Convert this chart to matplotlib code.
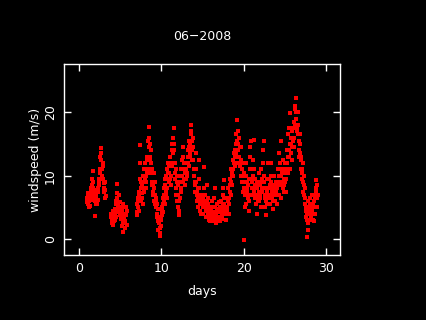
import numpy as np
import matplotlib
matplotlib.use("Agg")
import matplotlib.pyplot as plt

nan = np.nan
gap = [nan] * 24

# wind speed (m/s), one row per day, hourly readings
first_day = 1
speed_rows = [
    [6.5, 5.8, 5.5, 7.2, 7.0, 6.3, 6.0, 5.0, 5.2, 6.8, 7.5, 8.0,
     6.2, 7.0, 8.5, 9.5, 10.8, 8.0, 9.0, 7.5, 7.2, 6.5, 6.0, 7.8],      # 1
    [3.6, 5.5, 6.5, 7.0, 5.5, 6.0, 7.8, 8.0, 6.2, 7.5, 8.5, 9.0,
     9.5, 10.5, 11.0, 13.0, 14.3, 13.5, 12.5, 11.0, 10.0, 12.0, 11.5, 9.5],  # 2
    [8.8, 8.0, 7.5, 6.5, 9.0, 7.8, 6.8, nan, nan, nan, nan, nan,
     nan, nan, nan, nan, nan, nan, nan, nan, nan, nan, 3.5, 4.0],       # 3
    [2.5, 3.0, 3.8, 4.5, 2.2, 3.3, 4.2, 2.8, 3.0, 4.0, 4.8, 5.5,
     3.5, 6.0, 8.7, 7.2, 6.5, 5.8, 5.2, 4.2, 7.0, 5.0, 4.5, 3.8],       # 4
    [5.8, 4.2, 4.8, 3.6, 3.2, 4.5, 2.0, 5.0, 5.5, 2.6, 1.1, 3.0,
     4.0, 3.4, 2.8, 1.8, 5.0, 4.0, 3.8, 2.2, 4.4, nan, nan, nan],       # 5
    gap,                                                                # 6
    [5.5, 4.2, 3.8, 6.0, 6.5, 5.0, 4.5, 7.0, 7.5, 9.5, 14.8, 12.0,
     9.0, 8.0, 6.0, 7.2, 8.5, 6.5, 5.5, 9.0, 10.0, 8.0, 7.5, 11.0],     # 7
    [9.5, 11.0, 12.0, 10.0, 8.0, 9.0, 10.5, 12.5, 13.0, 15.5, 11.0, 16.0,
     17.6, 14.5, 15.0, 13.0, 12.5, 10.5, 14.0, 12.0, 11.0, 8.5, 9.0, 7.5],  # 8
    [8.5, 7.0, 6.0, 8.0, 10.5, 9.0, 7.0, 5.5, 5.0, 6.0, 6.5, 4.0,
     3.5, 5.5, 4.8, 2.8, 1.5, 3.0, 2.5, 1.0, 0.5, 1.8, 2.0, 3.0],       # 9
    [3.5, 4.5, 5.0, 3.8, 4.2, 5.5, 6.5, 7.0, 8.0, 6.0, 5.5, 8.5,
     9.5, 7.0, 7.5, 10.0, 11.0, 8.0, 6.5, 10.5, 12.0, 9.5, 9.0, 11.5],  # 10
    [10.5, 12.0, 13.0, 9.5, 8.5, 10.0, 11.5, 14.0, 15.0, 13.5, 12.0, 16.0,
     17.5, 15.0, 14.0, 12.0, 9.5, 10.5, 11.0, 8.0, 7.0, 9.0, 10.0, 6.0],  # 11
    [5.0, 7.0, 8.5, 4.5, 3.8, 6.0, 6.5, 9.0, 10.0, 8.0, 7.5, 11.0,
     12.5, 10.0, 9.0, 13.0, 14.5, 12.0, 11.0, 9.5, 8.5, 10.5, 12.0, 11.0],  # 12
    [9.5, 11.0, 12.0, 10.0, 10.5, 13.0, 14.0, 12.0, 11.5, 14.5, 15.5, 13.5,
     13.0, 15.0, 16.5, 17.0, 18.0, 15.5, 14.0, 12.5, 16.0, 14.5, 12.5, 11.0],  # 13
    [10.0, 8.5, 7.5, 9.0, 13.5, 11.0, 9.0, 7.0, 6.0, 7.5, 8.0, 6.5,
     5.0, 9.5, 12.5, 8.0, 7.0, 5.5, 4.5, 6.0, 6.5, 4.0, 5.5, 7.0],      # 14
    [7.0, 5.0, 4.0, 6.5, 5.5, 8.0, 11.3, 7.0, 6.0, 4.5, 3.5, 5.0,
     8.5, 6.0, 4.5, 3.8, 6.5, 5.5, 3.0, 4.0, 5.0, 3.5, 2.8, 4.2],       # 15
    [4.5, 3.5, 3.0, 5.0, 6.0, 4.0, 2.8, 3.6, 5.0, 4.2, 3.5, 6.5,
     8.0, 5.0, 4.0, 3.0, 2.5, 3.8, 5.5, 4.5, 3.2, 2.9, 4.8, 5.8],       # 16
    [3.5, 4.2, 5.0, 3.0, 2.8, 4.5, 6.0, 5.0, 4.0, 3.5, 3.2, 5.5,
     7.0, 8.0, 9.3, 6.5, 5.5, 4.5, 4.0, 5.0, 6.5, 4.0, 3.0, 4.5],       # 17
    [5.0, 6.5, 8.0, 6.0, 4.0, 5.5, 6.5, 8.5, 9.5, 7.5, 7.0, 9.0,
     11.0, 10.0, 8.5, 10.5, 12.5, 11.0, 10.0, 12.0, 13.5, 12.0, 11.5, 13.0],  # 18
    [14.0, 15.0, 16.5, 13.5, 12.0, 15.5, 18.7, 17.0, 15.0, 14.0, 13.0, 12.0,
     16.0, 14.5, 11.5, 10.0, 14.5, 12.5, 9.0, 11.0, 12.0, 10.0, 7.5, 9.0],  # 19
    [-0.2, 8.0, 10.5, 9.0, 7.0, 5.0, 12.0, 10.0, 5.5, 7.5, 9.0, 8.0,
     6.5, 7.0, 8.5, 6.0, 4.5, 9.5, 11.0, 13.0, 14.5, 15.5, 9.5, 8.0],   # 20
    [7.0, 9.0, 12.5, 10.0, 8.0, 7.5, 15.6, 11.0, 6.5, 8.5, 9.5, 7.0,
     5.5, 6.5, 8.0, 9.0, 4.0, 6.0, 7.0, 8.5, 10.5, 7.5, 6.0, 7.0],      # 21
    [8.5, 6.5, 5.0, 9.0, 11.0, 8.0, 7.5, 9.5, 14.0, 12.0, 15.5, 10.0,
     9.0, 7.0, 6.5, 5.0, 3.8, 6.0, 8.0, 7.5, 5.5, 9.5, 12.0, 8.0],      # 22
    [7.0, 8.0, 9.5, 6.5, 5.5, 7.0, 8.5, 10.0, 12.0, 9.0, 6.5, 7.5,
     8.0, 6.0, 4.8, 7.0, 10.0, 8.5, 7.5, 6.0, 6.0, 7.5, 9.0, 8.0],      # 23
    [8.0, 7.0, 5.5, 8.5, 11.0, 9.0, 7.0, 10.0, 13.5, 11.0, 9.0, 12.0,
     15.5, 10.0, 6.5, 8.5, 10.5, 9.0, 8.0, 11.0, 12.5, 9.5, 7.5, 8.5],  # 24
    [9.0, 10.5, 12.0, 9.5, 7.5, 11.0, 14.0, 12.0, 10.5, 13.0, 16.5, 14.0,
     13.0, 17.5, 19.8, 15.0, 11.0, 13.5, 15.0, 16.0, 17.0, 14.5, 12.5, 15.5],  # 25
    [16.0, 17.5, 18.5, 16.0, 14.5, 18.0, 20.5, 21.0, 22.2, 20.0, 19.0, 17.5,
     17.0, 18.0, 20.0, 16.5, 15.5, 14.0, 13.0, 15.0, 16.5, 13.5, 11.0, 12.5],  # 26
    [13.0, 11.0, 9.5, 10.5, 12.0, 9.0, 7.5, 8.5, 10.0, 7.0, 5.5, 6.5,
     8.0, 5.0, 3.5, 4.5, 0.3, 3.0, 4.0, 6.0, 2.5, 1.5, 5.0, 4.0],       # 27
    [4.5, 5.5, 6.5, 3.0, 3.5, 5.0, 5.5, 4.5, 7.0, 5.5, 4.0, 3.0,
     6.0, 7.0, 2.8, 4.0, 5.0, 6.5, 8.0, 7.5, 9.3, 8.5, 6.5, 5.0],       # 28
    [7.0],                                                              # 29
]

xticks = [0, 10, 20, 30]
yticks = [0, 10, 20]

# build time axis
days = []
speed = []
for i, row in enumerate(speed_rows):
    for j, v in enumerate(row):
        days.append(first_day + i + j / 24.0)
        speed.append(v)
days = np.array(days)
speed = np.array(speed)

fig = plt.figure(figsize=(4.26, 3.2), dpi=100, facecolor='black')
ax = fig.add_axes([64/426, 65/320, 276/426, 191/320], facecolor='black')

ax.plot(days, speed, linestyle='none', marker='s', markersize=2.4,
        markeredgewidth=0, color='#ff0000')

ax.set_xlim(-1.8, 31.7)
ax.set_ylim(-2.5, 27.6)
ax.set_xticks(xticks)
ax.set_yticks(yticks)
ax.tick_params(direction='in', length=5, width=1, colors='white',
               labelsize=9, top=True, right=True, pad=5)
for lab in ax.get_yticklabels():
    lab.set_rotation(90)
    lab.set_va('center')
for sp in ax.spines.values():
    sp.set_color('white')
    sp.set_linewidth(1)

fig.text(202/426, 1 - 37/320, '06\u22122008', color='white', fontsize=9,
         ha='center', va='center')
fig.text(202/426, 1 - 291/320, 'days', color='white', fontsize=9,
         ha='center', va='center')
fig.text(35/426, 1 - 160/320, 'windspeed (m/s)', color='white', fontsize=9,
         ha='center', va='center', rotation=90)

fig.savefig('out.png', dpi=100, facecolor='black')
